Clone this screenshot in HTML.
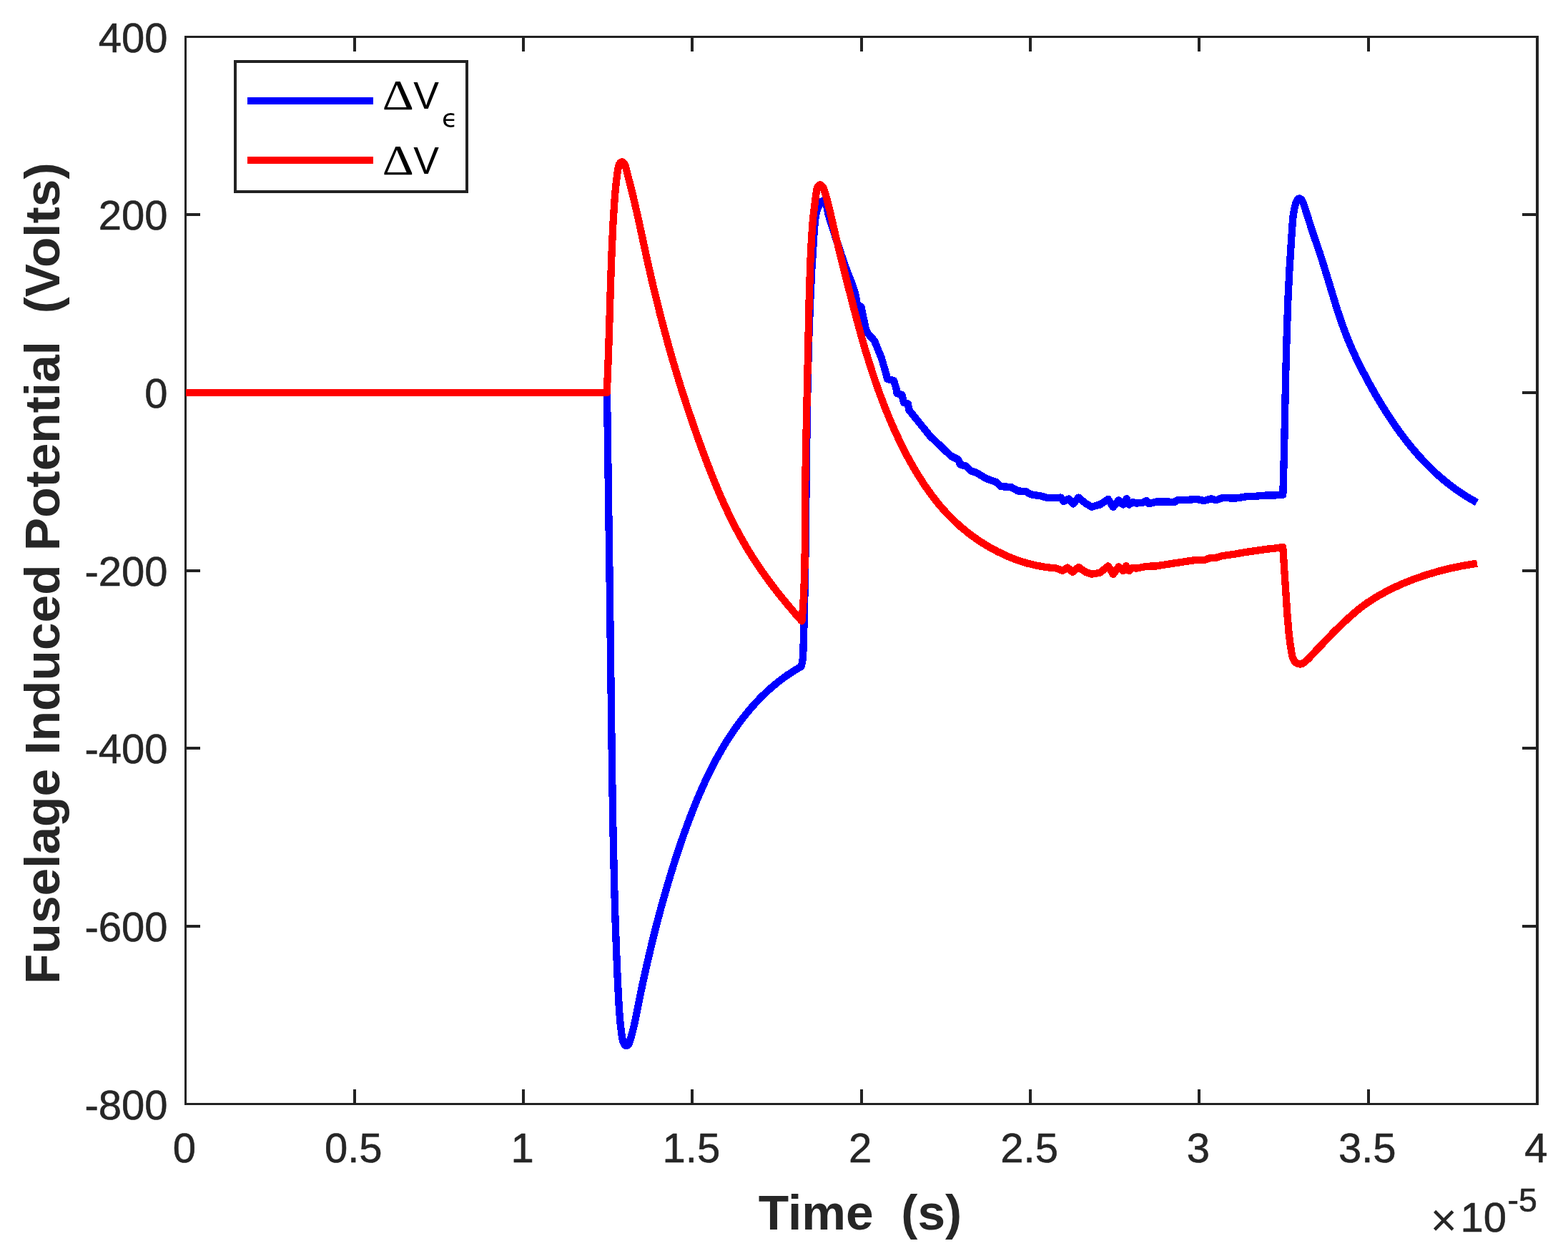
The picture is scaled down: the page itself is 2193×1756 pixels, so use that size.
<!DOCTYPE html>
<html lang="en"><head><meta charset="utf-8"><title>Fuselage Induced Potential</title>
<style>html,body{margin:0;padding:0;background:#fff;}body{width:2193px;height:1756px;overflow:hidden;position:relative;}</style></head>
<body>
<svg width="2193" height="1756" viewBox="0 0 2193 1756" style="display:block;position:absolute;left:0;top:0">
<rect x="0" y="0" width="2193" height="1756" fill="#fff"/>
<g fill="#222" shape-rendering="crispEdges">
<rect x="258" y="50" width="3" height="1495"/>
<rect x="2148" y="50" width="4" height="1495"/>
<rect x="258" y="50" width="1894" height="3"/>
<rect x="258" y="1542" width="1894" height="3"/>
<rect x="494" y="50" width="4" height="22"/>
<rect x="494" y="1523" width="4" height="22"/>
<rect x="730" y="50" width="4" height="22"/>
<rect x="730" y="1523" width="4" height="22"/>
<rect x="966" y="50" width="4" height="22"/>
<rect x="966" y="1523" width="4" height="22"/>
<rect x="1203" y="50" width="4" height="22"/>
<rect x="1203" y="1523" width="4" height="22"/>
<rect x="1439" y="50" width="4" height="22"/>
<rect x="1439" y="1523" width="4" height="22"/>
<rect x="1675" y="50" width="4" height="22"/>
<rect x="1675" y="1523" width="4" height="22"/>
<rect x="1912" y="50" width="4" height="22"/>
<rect x="1912" y="1523" width="4" height="22"/>
<rect x="258" y="298" width="22" height="4"/>
<rect x="2129" y="298" width="23" height="4"/>
<rect x="258" y="547" width="22" height="4"/>
<rect x="2129" y="547" width="23" height="4"/>
<rect x="258" y="796" width="22" height="4"/>
<rect x="2129" y="796" width="23" height="4"/>
<rect x="258" y="1044" width="22" height="4"/>
<rect x="2129" y="1044" width="23" height="4"/>
<rect x="258" y="1293" width="22" height="4"/>
<rect x="2129" y="1293" width="23" height="4"/>
</g>
<clipPath id="c"><rect x="259" y="50" width="1893" height="1495"/></clipPath>
<g clip-path="url(#c)" fill="none" shape-rendering="crispEdges" stroke-linejoin="round" stroke-linecap="butt" stroke-width="10.3">
<path d="M259.5,549.0 L849.0,549.0 L852.8,823.8 L856.0,1074.8 L857.5,1163.4 L859.3,1242.9 L860.7,1290.9 L862.3,1334.5 L864.0,1375.1 L866.0,1411.4 L867.4,1429.1 L870.0,1450.1 L871.0,1455.1 L872.1,1458.1 L872.8,1459.4 L873.6,1460.5 L874.6,1461.5 L875.6,1462.0 L876.7,1462.0 L877.7,1461.6 L878.7,1460.7 L880.1,1458.1 L883.0,1448.7 L885.8,1437.9 L888.2,1427.5 L896.0,1388.4 L901.7,1362.0 L906.7,1339.9 L912.3,1316.4 L918.9,1290.2 L925.5,1265.5 L932.5,1241.0 L939.8,1216.6 L945.7,1198.0 L951.4,1180.9 L957.3,1163.9 L963.5,1146.9 L969.5,1131.5 L975.1,1117.6 L981.1,1103.8 L987.3,1090.1 L994.5,1075.2 L1001.5,1061.9 L1008.9,1048.8 L1015.8,1037.3 L1023.2,1025.9 L1030.9,1014.7 L1039.0,1003.9 L1047.4,993.4 L1056.3,983.3 L1064.6,974.6 L1073.2,966.3 L1082.2,958.4 L1091.5,950.9 L1101.2,943.9 L1111.3,937.3 L1120.5,932.0 L1121.3,929.1 L1122.3,924.6 L1123.2,915.7 L1124.9,860.1 L1126.4,777.3 L1128.8,577.2 L1129.9,523.1 L1131.2,473.5 L1133.1,423.9 L1135.3,377.3 L1138.6,324.8 L1139.7,311.3 L1140.6,303.8 L1141.7,297.9 L1143.4,292.1 L1145.8,286.3 L1147.3,283.5 L1148.2,282.3 L1149.2,281.5 L1150.3,281.5 L1151.6,282.1 L1152.9,283.2 L1154.0,284.5 L1155.6,287.3 L1156.6,290.2 L1158.5,299.3 L1160.5,306.6 L1176.7,356.4 L1182.6,373.5 L1191.4,395.9 L1194.8,405.8 L1196.4,411.6 L1197.3,416.0 L1198.0,420.4 L1198.4,425.0 L1204.4,429.0 L1206.8,440.3 L1210.5,458.4 L1213.5,466.0 L1223.0,476.5 L1232.9,500.6 L1239.8,524.7 L1241.0,530.0 L1250.0,532.0 L1253.4,542.8 L1254.5,550.0 L1261.5,552.0 L1262.4,556.0 L1264.0,563.0 L1270.0,564.5 L1271.2,573.0 L1283.3,588.0 L1300.3,609.2 L1324.4,632.1 L1330.4,637.7 L1340.2,642.6 L1343.0,649.6 L1351.3,651.7 L1358.3,658.6 L1365.2,660.7 L1379.1,669.0 L1393.1,674.0 L1400.0,680.2 L1413.9,680.9 L1423.7,686.4 L1434.8,687.1 L1441.8,691.3 L1455.7,693.4 L1465.4,696.2 L1476.5,696.2 L1483.5,695.5 L1487.7,701.1 L1494.6,697.6 L1500.9,704.5 L1508.5,695.5 L1518.3,703.8 L1526.6,708.7 L1538.1,705.6 L1549.9,697.9 L1556.9,709.0 L1564.5,699.3 L1570.8,705.6 L1575.7,697.2 L1579.1,705.6 L1584.0,702.1 L1589.6,703.5 L1597.9,702.8 L1603.5,700.0 L1607.0,704.2 L1617.4,701.4 L1631.3,701.4 L1642.4,702.1 L1646.6,699.3 L1659.1,699.0 L1673.1,697.9 L1684.2,700.0 L1693.9,697.2 L1700.9,699.3 L1709.2,696.2 L1728.7,696.5 L1742.6,694.4 L1756.5,693.7 L1770.4,692.6 L1784.4,692.4 L1794.3,691.7 L1795.9,635.9 L1798.3,520.3 L1799.6,472.2 L1801.3,421.1 L1803.5,375.9 L1806.5,329.3 L1808.0,307.6 L1808.8,300.3 L1810.6,290.6 L1812.5,283.5 L1813.8,280.5 L1814.6,279.2 L1815.4,278.3 L1816.2,277.7 L1817.2,277.5 L1818.2,277.7 L1819.2,278.3 L1821.0,280.2 L1822.5,282.9 L1823.6,286.1 L1835.3,323.0 L1845.9,353.9 L1850.1,366.9 L1870.8,434.7 L1876.6,451.8 L1882.3,467.2 L1886.2,477.0 L1890.9,488.0 L1895.9,498.9 L1901.1,509.7 L1912.2,531.0 L1924.7,553.4 L1933.3,567.6 L1941.4,580.4 L1949.8,593.0 L1957.6,604.1 L1965.8,614.9 L1974.2,625.5 L1983.0,635.8 L1991.1,644.6 L2000.5,654.2 L2009.2,662.5 L2018.2,670.3 L2027.6,677.8 L2037.2,685.0 L2045.9,690.9 L2056.2,697.3 L2065.5,702.5" stroke="#0000ff"/>
<path d="M259.5,549.0 L848.8,549.0 L851.0,495.0 L854.1,394.2 L855.5,355.1 L857.3,314.8 L859.5,280.5 L860.6,267.0 L862.0,253.3 L863.8,239.3 L864.9,233.1 L865.8,230.3 L866.5,229.0 L867.3,227.8 L868.2,226.9 L869.3,226.4 L870.3,226.4 L871.4,226.9 L872.4,227.8 L874.0,230.4 L875.2,233.7 L885.3,273.7 L891.8,301.7 L906.1,367.7 L913.5,399.9 L923.6,440.7 L934.5,481.4 L941.1,504.5 L947.6,526.1 L954.7,549.1 L961.7,570.5 L969.4,593.3 L976.9,614.6 L984.6,635.7 L992.1,655.4 L998.7,672.1 L1005.7,688.8 L1012.3,703.8 L1019.3,718.8 L1025.9,732.2 L1032.9,745.5 L1040.2,758.6 L1047.1,770.3 L1054.3,781.7 L1062.6,794.3 L1071.3,806.6 L1080.3,818.8 L1089.5,830.7 L1100.0,843.5 L1110.6,856.1 L1121.5,868.4 L1122.9,850.4 L1124.0,832.5 L1124.8,813.0 L1125.4,793.5 L1125.9,757.4 L1126.3,676.2 L1127.0,629.6 L1131.7,417.9 L1133.2,369.8 L1134.2,348.8 L1135.3,329.2 L1136.6,311.1 L1137.9,297.8 L1142.1,266.0 L1143.0,263.0 L1143.6,261.6 L1145.2,259.2 L1146.2,258.5 L1147.3,258.5 L1148.6,259.0 L1149.7,260.0 L1150.7,261.2 L1151.5,262.6 L1153.1,267.0 L1155.8,276.0 L1160.4,293.7 L1168.1,327.1 L1174.1,351.8 L1188.0,407.2 L1196.7,440.7 L1203.4,465.4 L1210.0,488.6 L1216.7,510.2 L1223.2,530.1 L1230.2,550.0 L1237.1,568.2 L1244.4,586.2 L1251.6,602.7 L1259.3,619.0 L1267.4,635.1 L1275.4,649.6 L1283.8,663.9 L1293.6,679.0 L1303.2,692.5 L1313.4,705.5 L1323.3,716.7 L1333.8,727.5 L1343.8,736.6 L1355.4,746.1 L1367.7,754.9 L1374.0,759.0 L1381.7,763.8 L1394.9,771.0 L1408.5,777.5 L1415.4,780.3 L1422.4,783.0 L1429.5,785.4 L1436.7,787.5 L1449.7,790.7 L1463.0,793.0 L1470.5,793.8 L1476.5,794.3 L1486.3,797.8 L1493.2,793.6 L1500.2,799.8 L1508.5,792.9 L1518.3,799.8 L1526.6,802.6 L1538.1,800.9 L1549.9,791.4 L1556.9,803.0 L1564.5,792.5 L1570.8,798.1 L1575.0,791.1 L1579.1,798.1 L1584.0,793.9 L1589.6,794.6 L1603.5,791.8 L1617.4,791.4 L1631.3,789.1 L1645.2,787.0 L1659.1,784.9 L1673.1,782.8 L1684.2,783.1 L1693.9,779.7 L1700.9,779.7 L1709.2,777.2 L1728.7,774.4 L1742.6,771.9 L1756.5,770.0 L1770.4,767.9 L1784.4,766.4 L1794.2,764.8 L1800.3,858.1 L1802.4,883.1 L1804.6,901.1 L1806.9,915.4 L1807.6,918.6 L1808.7,921.5 L1810.3,924.1 L1812.2,926.2 L1814.6,927.7 L1817.1,928.4 L1819.8,928.4 L1821.1,928.0 L1823.7,926.6 L1826.1,924.6 L1830.7,920.1 L1854.9,894.6 L1867.3,881.9 L1881.2,868.5 L1893.6,857.3 L1903.0,849.6 L1911.6,843.3 L1920.4,837.5 L1930.7,831.3 L1945.3,823.6 L1960.3,816.6 L1977.1,809.9 L1994.1,804.0 L2011.5,798.8 L2029.0,794.4 L2046.7,790.8 L2066.0,787.6" stroke="#ff0000"/>
</g>
<g font-family="'Liberation Sans', sans-serif" font-size="58" fill="#262626" stroke="#262626" stroke-width="0.6">
<text x="234.6" y="72.7" text-anchor="end">400</text>
<text x="234.6" y="321.4" text-anchor="end">200</text>
<text x="234.6" y="570.0" text-anchor="end">0</text>
<text x="234.6" y="818.7" text-anchor="end">-200</text>
<text x="234.6" y="1067.4" text-anchor="end">-400</text>
<text x="234.6" y="1316.0" text-anchor="end">-600</text>
<text x="234.6" y="1564.7" text-anchor="end">-800</text>
<text x="258.0" y="1624.5" text-anchor="middle">0</text>
<text x="494.3" y="1624.5" text-anchor="middle">0.5</text>
<text x="730.6" y="1624.5" text-anchor="middle">1</text>
<text x="966.9" y="1624.5" text-anchor="middle">1.5</text>
<text x="1203.2" y="1624.5" text-anchor="middle">2</text>
<text x="1439.6" y="1624.5" text-anchor="middle">2.5</text>
<text x="1675.9" y="1624.5" text-anchor="middle">3</text>
<text x="1912.2" y="1624.5" text-anchor="middle">3.5</text>
<text x="2148.5" y="1624.5" text-anchor="middle">4</text>
<text x="2000.5" y="1728" font-size="64" stroke="none">×</text>
<text x="2042.5" y="1721.5">10</text>
<text x="2108.5" y="1693.5" font-size="46.5">-5</text>
</g>
<g font-family="'Liberation Sans', sans-serif" font-size="69.45" font-weight="bold" fill="#262626">
<text x="1203" y="1719.3" text-anchor="middle" xml:space="preserve" style="white-space:pre">Time  (s)</text>
<text transform="translate(83.2,801.7) rotate(-90)" text-anchor="middle" xml:space="preserve" style="white-space:pre">Fuselage Induced Potential  (Volts)</text>
</g>
<g>
<rect x="329" y="86" width="324" height="182" fill="#fff" stroke="#222" stroke-width="4" shape-rendering="crispEdges"/>
<rect x="346" y="136" width="176" height="10" fill="#0000ff" shape-rendering="crispEdges"/>
<rect x="346" y="219" width="176" height="10" fill="#ff0000" shape-rendering="crispEdges"/>
<g fill="#000" font-family="'Liberation Sans', sans-serif" font-size="53.5">
<text transform="translate(534.8,152.6) scale(1.17,1)" font-family="'Liberation Serif', serif" font-size="58.5">Δ</text><text x="578.3" y="151.7">V</text>
<text x="618" y="177.5" font-family="'DejaVu Sans', sans-serif" font-size="36">ϵ</text>
<text transform="translate(534.8,243.9) scale(1.17,1)" font-family="'Liberation Serif', serif" font-size="58.5">Δ</text><text x="578.3" y="242.8">V</text>
</g>
</g>
</svg>
</body></html>
